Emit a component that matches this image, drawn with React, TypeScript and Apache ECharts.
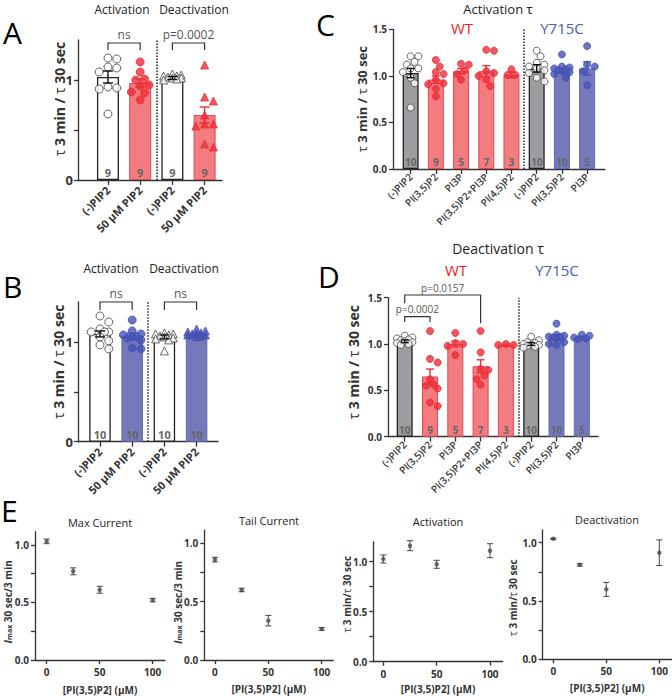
import React, { useEffect, useRef } from "react";
import * as echarts from "echarts";

const FONT = "'Open Sans', 'Noto Sans', 'DejaVu Sans', sans-serif";

// ---------------- Panel A ----------------
const catsA = ["(-)PIP2", "50 µM PIP2", "(-)PIP2", "50 µM PIP2"];
const meanA = [1.03, 0.97, 1.02, 0.65];
const semA = [0.06, 0.04, 0.015, 0.08];
const nA = [9, 9, 9, 9];
const kindA = ["open", "red", "open", "red"];
const symA = ["circle", "circle", "triangle", "triangle"];
const ptsA = [
  [1.22, 1.21, 1.13, 1.12, 1.08, 0.92, 0.91, 0.93, 0.66],
  [1.18, 1.08, 1.0, 1.01, 0.94, 0.95, 0.87, 0.88, 0.8],
  [1.06, 1.05, 1.04, 1.04, 1.03, 1.02, 1.02, 1.01, 1.0],
  [1.15, 0.83, 0.79, 0.65, 0.56, 0.56, 0.54, 0.33, 0.36],
];
const bracketsA = [
  { x1: 0, x2: 1, top: 1.37, l1: 1.3, l2: 1.3, label: "ns" },
  { x1: 2, x2: 3, top: 1.37, l1: 1.3, l2: 1.3, label: "p=0.0002" },
];

// ---------------- Panel B ----------------
const catsB = ["(-)PIP2", "50 µM PIP2", "(-)PIP2", "50 µM PIP2"];
const meanB = [1.08, 1.06, 1.05, 1.08];
const semB = [0.03, 0.03, 0.02, 0.01];
const nB = [10, 10, 10, 10];
const kindB = ["open", "blue", "open", "blue"];
const symB = ["circle", "circle", "triangle", "triangle"];
const ptsB = [
  [1.26, 1.2, 1.13, 1.1, 1.1, 1.1, 1.05, 1.01, 0.97, 0.93],
  [1.22, 1.11, 1.08, 1.07, 1.05, 1.05, 1.04, 1.02, 0.94, 0.93],
  [1.09, 1.08, 1.08, 1.07, 1.06, 1.05, 1.04, 1.03, 1.02, 0.91],
  [1.13, 1.11, 1.1, 1.09, 1.08, 1.08, 1.07, 1.07, 1.06, 1.05],
];
const bracketsB = [
  { x1: 0, x2: 1, top: 1.4, l1: 1.32, l2: 1.32, label: "ns" },
  { x1: 2, x2: 3, top: 1.4, l1: 1.32, l2: 1.32, label: "ns" },
];

// ---------------- Panel C (Activation τ) ----------------
const catsCD = ["(-)PIP2", "PI(3,5)P2", "PI3P", "PI(3,5)P2+PI3P", "PI(4,5)P2", "(-)PIP2", "PI(3,5)P2", "PI3P"];
const kindCD = ["gray", "red", "red", "red", "red", "gray", "blue", "blue"];
const nCD = [10, 9, 5, 7, 3, 10, 10, 5];
const meanC = [1.03, 0.96, 1.05, 1.05, 1.01, 1.08, 1.05, 1.08];
const semC = [0.05, 0.04, 0.03, 0.06, 0.03, 0.04, 0.02, 0.07];
const ptsC = [
  [1.21, 1.21, 1.15, 1.12, 1.08, 1.08, 1.04, 0.98, 0.92, 0.66],
  [1.17, 1.1, 1.04, 1.02, 0.96, 0.92, 0.91, 0.86, 0.78],
  [1.13, 1.12, 1.06, 1.02, 0.96],
  [1.28, 1.27, 1.05, 1.03, 1.0, 0.96, 0.89],
  [1.07, 1.01, 1.01],
  [1.27, 1.21, 1.14, 1.12, 1.1, 1.08, 1.06, 1.03, 0.98, 0.94],
  [1.23, 1.1, 1.09, 1.08, 1.07, 1.06, 1.05, 1.04, 1.02, 0.98],
  [1.32, 1.12, 1.1, 1.05, 0.9],
];

// ---------------- Panel D (Deactivation τ) ----------------
const meanD = [1.03, 0.65, 1.0, 0.76, 0.99, 1.0, 1.07, 1.07];
const semD = [0.015, 0.08, 0.03, 0.07, 0.01, 0.015, 0.03, 0.01];
const ptsD = [
  [1.09, 1.07, 1.06, 1.05, 1.04, 1.03, 1.02, 1.01, 1.0, 0.99],
  [1.14, 0.84, 0.8, 0.62, 0.56, 0.55, 0.52, 0.37, 0.33],
  [1.12, 1.01, 1.0, 0.98, 0.88],
  [1.14, 0.91, 0.73, 0.72, 0.66, 0.62, 0.56],
  [1.0, 0.99, 0.99],
  [1.08, 1.04, 1.02, 1.01, 1.0, 0.99, 0.99, 0.98, 0.97, 0.96],
  [1.22, 1.1, 1.09, 1.08, 1.08, 1.07, 1.06, 1.02, 1.0, 0.99],
  [1.1, 1.09, 1.07, 1.06, 1.05],
];
const bracketsD = [
  { x1: 0, x2: 1, top: 1.295, l1: 1.237, l2: 1.237, label: "p=0.0002" },
  { x1: 0, x2: 3, top: 1.529, l1: 1.44, l2: 1.223, label: "p=0.0157" },
];

// ---------------- Panel E ----------------
const concE = [0, 25, 50, 100];
const maxCur = [1.03, 0.77, 0.61, 0.52];
const maxCurErr = [0.02, 0.03, 0.03, 0.015];
const tailCur = [0.86, 0.6, 0.337, 0.266];
const tailCurErr = [0.02, 0.015, 0.045, 0.012];
const actTau = [1.027, 1.16, 0.974, 1.11];
const actTauErr = [0.04, 0.05, 0.04, 0.07];
const deactTau = [1.034, 0.81, 0.6, 0.914];
const deactTauErr = [0.005, 0.01, 0.06, 0.11];

// ticks
const yTicksAB = [0, 0.5, 1];
const yLabelsAB = [0, 1];
const yTicksCD = [0, 0.5, 1, 1.5];
const yTicksE = [0, 0.25, 0.5, 0.75, 1];
const yLabelsE = [0, 0.5, 1];
const xTicksE = [0, 50, 100];

const COLORS: Record<string, any> = {
  open: { fill: "#ffffff", border: "#222222", point: "#ffffff", pointBorder: "#444444", err: "#111111" },
  gray: { fill: "#9d9da1", border: "#222222", point: "#ffffff", pointBorder: "#444444", err: "#111111" },
  red: { fill: "#f27c80", border: "#e9464e", point: "#ec2d38", pointBorder: "#ec2d38", err: "#e8323b" },
  blue: { fill: "#7479bc", border: "#6268b2", point: "#4653b5", pointBorder: "#4653b5", err: "#4653b5" },
};
const AXIS = "#333333";

function swarm(vals: number[], pxX: number, pxY: number, size: number, maxOff: number) {
  const order = vals.map((_, i) => i).sort((a, b) => vals[b] - vals[a]);
  const placed: { o: number; v: number }[] = [];
  const off = new Array(vals.length).fill(0);
  const step = (size * 0.55) / pxX;
  for (const i of order) {
    let best = 0;
    let bestD = -1;
    for (let k = 0; k < 14; k++) {
      const cand = k === 0 ? 0 : (k % 2 ? 1 : -1) * Math.ceil(k / 2) * step;
      if (Math.abs(cand) > maxOff) continue;
      let minD = Infinity;
      for (const p of placed) {
        const dx = (cand - p.o) * pxX;
        const dy = (vals[i] - p.v) * pxY;
        minD = Math.min(minD, Math.sqrt(dx * dx + dy * dy));
      }
      if (minD >= size * 0.95) {
        best = cand;
        bestD = minD;
        break;
      }
      if (minD > bestD) {
        bestD = minD;
        best = cand;
      }
    }
    off[i] = best;
    placed.push({ o: best, v: vals[i] });
  }
  return off;
}

function rotName(fontSize: number, pad: number[], color = "#333") {
  return {
    fontSize,
    fontWeight: "bold",
    color,
    fontFamily: FONT,
    padding: pad,
    rich: {
      t: { fontSize, fontWeight: "normal", color, fontFamily: FONT },
      i: { fontSize: fontSize + 1, fontStyle: "italic", fontWeight: "bold", color, fontFamily: FONT },
      s: { fontSize: fontSize - 3, fontWeight: "bold", color, fontFamily: FONT, padding: [4, 0, 0, 0] },
    },
  };
}

function buildBarPanel(p: any, opt: any) {
  const gi = p.gi;
  const idx = p.cats.map((_: string, i: number) => i);
  opt.grid.push({ ...p.grid });
  opt.xAxis.push({
    gridIndex: gi,
    type: "value",
    min: p.xMin,
    max: p.xMax,
    axisLine: { show: true, onZero: false, lineStyle: { color: AXIS, width: 1.3 } },
    axisTick: { show: true, length: 5, customValues: idx, lineStyle: { color: AXIS, width: 1.3 } },
    axisLabel: {
      show: true,
      customValues: idx,
      formatter: (v: number) => p.cats[Math.round(v)] ?? "",
      rotate: 45,
      margin: p.catMargin,
      fontSize: p.catFont,
      fontWeight: p.catWeight,
      color: "#333",
      fontFamily: FONT,
    },
    splitLine: { show: false },
  });
  opt.yAxis.push({
    gridIndex: gi,
    type: "value",
    min: 0,
    max: p.yMax,
    axisLine: { show: true, onZero: false, lineStyle: { color: AXIS, width: 1.3 } },
    axisTick: { show: true, length: 4, customValues: p.yTicks, lineStyle: { color: AXIS, width: 1.3 } },
    axisLabel: {
      show: true,
      customValues: p.yLabels,
      formatter: p.yFmt,
      margin: p.tickMargin,
      fontSize: p.tickFont,
      fontWeight: "bold",
      color: "#333",
      fontFamily: FONT,
    },
    splitLine: { show: false },
    name: "{t|τ} 3 min / {t|τ} 30 sec",
    nameLocation: "middle",
    nameGap: p.nameGap,
    nameMoveOverlap: false,
    nameTextStyle: rotName(p.nameFont, p.namePad),
  });
  const pxX = p.grid.width / (p.xMax - p.xMin);
  const pxY = p.grid.height / p.yMax;
  opt.series.push({
    type: "bar",
    xAxisIndex: gi,
    yAxisIndex: gi,
    barWidth: p.barWidth,
    z: 1,
    data: p.mean.map((m: number, i: number) => ({
      value: [i, m],
      itemStyle: {
        color: COLORS[p.kinds[i]].fill,
        borderColor: COLORS[p.kinds[i]].border,
        borderWidth: p.kinds[i] === "red" || p.kinds[i] === "blue" ? 1 : 1.3,
      },
    })),
    label: {
      show: true,
      position: "insideBottom",
      distance: 2,
      formatter: (prm: any) => String(p.n[prm.dataIndex]),
      fontSize: p.nFont,
      fontWeight: "bold",
      color: "#666",
      fontFamily: FONT,
    },
    markLine: {
      silent: true,
      symbol: ["none", "none"],
      label: { show: false },
      lineStyle: { type: "dotted", color: "#222", width: 1.5 },
      data: [{ xAxis: p.sep }],
    },
  });
  const scatterData: any[] = [];
  p.pts.forEach((vals: number[], i: number) => {
    const offs = swarm(vals, pxX, pxY, p.symbolSize, p.maxOff);
    const c = COLORS[p.kinds[i]];
    vals.forEach((v, j) => {
      scatterData.push({
        value: [i + offs[j], v],
        symbol: p.syms ? p.syms[i] : "circle",
        symbolSize: p.symbolSize,
        itemStyle: { color: c.point, borderColor: c.pointBorder, borderWidth: 1 },
      });
    });
  });
  opt.series.push({ type: "scatter", xAxisIndex: gi, yAxisIndex: gi, z: 3, data: scatterData });
  const errColors = p.kinds.map((k: string) => COLORS[k].err);
  opt.series.push({
    type: "custom",
    xAxisIndex: gi,
    yAxisIndex: gi,
    z: 4,
    data: p.mean.map((m: number, i: number) => [i, m, p.sem[i]]),
    renderItem: (params: any, api: any) => {
      const x = api.value(0), m = api.value(1), s = api.value(2);
      const t = api.coord([x, m + s]);
      const b = api.coord([x, m - s]);
      const hw = p.capW / 2;
      const style = { stroke: errColors[params.dataIndex], lineWidth: 1.4 };
      return {
        type: "group",
        children: [
          { type: "line", shape: { x1: t[0], y1: t[1], x2: b[0], y2: b[1] }, style },
          { type: "line", shape: { x1: t[0] - hw, y1: t[1], x2: t[0] + hw, y2: t[1] }, style },
          { type: "line", shape: { x1: b[0] - hw, y1: b[1], x2: b[0] + hw, y2: b[1] }, style },
        ],
      };
    },
  });
  if (p.brackets) {
    opt.series.push({
      type: "custom",
      xAxisIndex: gi,
      yAxisIndex: gi,
      z: 4,
      clip: false,
      data: p.brackets.map((b: any) => [b.x1, b.x2, b.top, b.l1, b.l2]),
      renderItem: (params: any, api: any) => {
        const a = api.coord([api.value(0), api.value(3)]);
        const at = api.coord([api.value(0), api.value(2)]);
        const bt = api.coord([api.value(1), api.value(2)]);
        const b = api.coord([api.value(1), api.value(4)]);
        return {
          type: "polyline",
          shape: { points: [a, at, bt, b] },
          style: { stroke: "#333", lineWidth: 1.2, fill: null },
        };
      },
    });
    opt.series.push({
      type: "scatter",
      xAxisIndex: gi,
      yAxisIndex: gi,
      z: 5,
      clip: false,
      symbolSize: 1,
      itemStyle: { color: "rgba(0,0,0,0)" },
      data: p.brackets.map((b: any) => [(b.x1 + b.x2) / 2, b.top]),
      label: {
        show: true,
        position: "top",
        distance: 2,
        formatter: (prm: any) => p.brackets[prm.dataIndex].label,
        color: "#222222",
        fontSize: p.bracketFont,
        fontFamily: FONT,
      },
    });
  }
}

function buildEPanel(p: any, opt: any) {
  const gi = p.gi;
  opt.grid.push({ ...p.grid });
  opt.xAxis.push({
    gridIndex: gi,
    type: "value",
    min: p.xMin,
    max: p.xMax,
    axisLine: { show: true, onZero: false, lineStyle: { color: AXIS, width: 1.3 } },
    axisTick: { show: true, length: 4, customValues: xTicksE, lineStyle: { color: AXIS, width: 1.3 } },
    axisLabel: {
      show: true,
      customValues: xTicksE,
      formatter: (v: number) => String(v),
      margin: 7,
      fontSize: 10,
      fontWeight: "bold",
      color: "#333",
      fontFamily: FONT,
    },
    splitLine: { show: false },
    name: "[PI(3,5)P2] (µM)",
    nameLocation: "middle",
    nameGap: p.xNameGap,
    nameTextStyle: { fontSize: 10, fontWeight: "bold", color: "#333", fontFamily: FONT },
  });
  opt.yAxis.push({
    gridIndex: gi,
    type: "value",
    min: 0,
    max: p.yMax,
    axisLine: { show: true, onZero: false, lineStyle: { color: AXIS, width: 1.3 } },
    axisTick: { show: true, length: 4, customValues: yTicksE, lineStyle: { color: AXIS, width: 1.3 } },
    axisLabel: {
      show: true,
      customValues: yLabelsE,
      formatter: (v: number) => v.toFixed(1),
      margin: 6,
      fontSize: 10,
      fontWeight: "bold",
      color: "#333",
      fontFamily: FONT,
    },
    splitLine: { show: false },
    name: p.name,
    nameLocation: "middle",
    nameGap: p.nameGap,
    nameMoveOverlap: false,
    nameTextStyle: rotName(10, p.namePad),
  });
  opt.series.push({
    type: "scatter",
    xAxisIndex: gi,
    yAxisIndex: gi,
    z: 3,
    symbol: "circle",
    symbolSize: 4.5,
    itemStyle: { color: "#555" },
    data: concE.map((c, i) => [c, p.y[i]]),
  });
  opt.series.push({
    type: "custom",
    xAxisIndex: gi,
    yAxisIndex: gi,
    z: 4,
    data: concE.map((c, i) => [c, p.y[i], p.err[i]]),
    renderItem: (params: any, api: any) => {
      const x = api.value(0), m = api.value(1), s = api.value(2);
      const t = api.coord([x, m + s]);
      const b = api.coord([x, m - s]);
      const hw = 3;
      const style = { stroke: "#444", lineWidth: 1 };
      return {
        type: "group",
        children: [
          { type: "line", shape: { x1: t[0], y1: t[1], x2: b[0], y2: b[1] }, style },
          { type: "line", shape: { x1: t[0] - hw, y1: t[1], x2: t[0] + hw, y2: t[1] }, style },
          { type: "line", shape: { x1: b[0] - hw, y1: b[1], x2: b[0] + hw, y2: b[1] }, style },
        ],
      };
    },
  });
}

function heading(text: string, left: number, top: number, fontSize: number, color = "#222", align = "center") {
  return {
    text,
    left,
    top,
    padding: 0,
    textAlign: align,
    textVerticalAlign: "middle",
    textStyle: { fontSize, fontWeight: "normal", color, fontFamily: FONT },
  };
}

function buildOption() {
  const opt: any = {
    animation: false,
    backgroundColor: "#ffffff",
    grid: [],
    xAxis: [],
    yAxis: [],
    series: [],
    title: [
      heading("A", 3, 32, 30, "#000", "left"),
      heading("B", 3, 286, 30, "#000", "left"),
      heading("C", 316, 24, 30, "#000", "left"),
      heading("D", 318, 276, 30, "#000", "left"),
      heading("E", 1, 510, 30, "#000", "left"),
      heading("Activation", 122, 9, 12),
      heading("Deactivation", 194, 9, 12),
      heading("Activation", 111, 268, 12),
      heading("Deactivation", 184, 268, 12),
      heading("Activation τ", 498, 9, 13),
      heading("WT", 462, 28, 15, "#ec1c24"),
      heading("Y715C", 562, 28, 15, "#4a5cb8"),
      heading("Deactivation τ", 498, 248, 14),
      heading("WT", 456, 270, 15, "#ec1c24"),
      heading("Y715C", 557, 270, 15, "#4a5cb8"),
      heading("Max Current", 100, 522, 11),
      heading("Tail Current", 269, 520, 11),
      heading("Activation", 438, 521, 11),
      heading("Deactivation", 607, 519, 11),
    ],
  };
  const fmtInt = (v: number) => String(v);
  const fmt1 = (v: number) => v.toFixed(1);
  buildBarPanel(
    {
      gi: 0, grid: { left: 78, top: 40, width: 144, height: 140 }, xMin: -0.93, xMax: 3.54, yMax: 1.4,
      cats: catsA, mean: meanA, sem: semA, n: nA, kinds: kindA, syms: symA, pts: ptsA,
      yTicks: yTicksAB, yLabels: yLabelsAB, yFmt: fmtInt, barWidth: 22, symbolSize: 8, maxOff: 0.38,
      catFont: 11, catWeight: "bold", catMargin: 8, tickFont: 13, tickMargin: 5, nFont: 11,
      nameFont: 14, nameGap: 12, namePad: [0, 0, 0, 22], sep: 1.52, brackets: bracketsA, bracketFont: 12, capW: 10,
    },
    opt
  );
  buildBarPanel(
    {
      gi: 1, grid: { left: 78, top: 302, width: 140, height: 139.7 }, xMin: -0.683, xMax: 3.665, yMax: 1.4,
      cats: catsB, mean: meanB, sem: semB, n: nB, kinds: kindB, syms: symB, pts: ptsB,
      yTicks: yTicksAB, yLabels: yLabelsAB, yFmt: fmtInt, barWidth: 21.5, symbolSize: 8, maxOff: 0.38,
      catFont: 11, catWeight: "bold", catMargin: 8, tickFont: 13, tickMargin: 5, nFont: 11,
      nameFont: 14, nameGap: 13, namePad: [0, 0, 0, 20], sep: 1.49, brackets: bracketsB, bracketFont: 12, capW: 10,
    },
    opt
  );
  const symCD = ["circle", "circle", "circle", "circle", "circle", "circle", "circle", "circle"];
  buildBarPanel(
    {
      gi: 2, grid: { left: 393, top: 29.3, width: 212, height: 139.7 }, xMin: -0.7, xMax: 7.71, yMax: 1.5,
      cats: catsCD, mean: meanC, sem: semC, n: nCD, kinds: kindCD, syms: symCD, pts: ptsC,
      yTicks: yTicksCD, yLabels: yTicksCD, yFmt: fmt1, barWidth: 16, symbolSize: 7, maxOff: 0.4,
      catFont: 10, catWeight: 600, catMargin: 6, tickFont: 10, tickMargin: 6, nFont: 10,
      nameFont: 13, nameGap: 25, namePad: [0, 0, 0, 0], sep: 4.5, brackets: null, bracketFont: 10, capW: 8,
    },
    opt
  );
  buildBarPanel(
    {
      gi: 3, grid: { left: 388, top: 297.7, width: 210, height: 139 }, xMin: -0.66, xMax: 7.64, yMax: 1.5,
      cats: catsCD, mean: meanD, sem: semD, n: nCD, kinds: kindCD, syms: symCD, pts: ptsD,
      yTicks: yTicksCD, yLabels: yTicksCD, yFmt: fmt1, barWidth: 16, symbolSize: 7, maxOff: 0.4,
      catFont: 10, catWeight: 600, catMargin: 6, tickFont: 10, tickMargin: 6, nFont: 10,
      nameFont: 14, nameGap: 28, namePad: [0, 0, 0, 10], sep: 4.49, brackets: bracketsD, bracketFont: 10, capW: 8,
    },
    opt
  );
  const imaxName = "{i|I}{s|max} 30 sec/3 min";
  const tauName = "{t|τ} 3 min/{t|τ} 30 sec";
  buildEPanel(
    { gi: 4, grid: { left: 35, top: 531.7, width: 130, height: 130 }, xMin: -11, xMax: 111.6, yMax: 1.114,
      y: maxCur, err: maxCurErr, name: imaxName, nameGap: 22, namePad: [0, 12, 0, 0], xNameGap: 25 },
    opt
  );
  buildEPanel(
    { gi: 5, grid: { left: 204.3, top: 530, width: 129, height: 130 }, xMin: -10, xMax: 110.9, yMax: 1.114,
      y: tailCur, err: tailCurErr, name: imaxName, nameGap: 21, namePad: [0, 15, 0, 0], xNameGap: 24 },
    opt
  );
  buildEPanel(
    { gi: 6, grid: { left: 373.3, top: 541.7, width: 129.4, height: 120 }, xMin: -9.4, xMax: 111.9, yMax: 1.2,
      y: actTau, err: actTauErr, name: tauName, nameGap: 21, namePad: [0, 0, 0, 15], xNameGap: 22 },
    opt
  );
  buildEPanel(
    { gi: 7, grid: { left: 542.7, top: 530, width: 129, height: 129.3 }, xMin: -10, xMax: 111.7, yMax: 1.109,
      y: deactTau, err: deactTauErr, name: tauName, nameGap: 25, namePad: [0, 6, 0, 0], xNameGap: 24 },
    opt
  );
  return opt;
}

export default function App() {
  const ref = useRef<HTMLDivElement>(null);
  useEffect(() => {
    if (!ref.current) return;
    const chart = echarts.init(ref.current, undefined, { renderer: "svg" });
    chart.setOption(buildOption());
    return () => chart.dispose();
  }, []);
  return (
    <div
      ref={ref}
      style={{ position: "fixed", left: 0, top: 0, width: 672, height: 696, background: "#fff" }}
    />
  );
}
